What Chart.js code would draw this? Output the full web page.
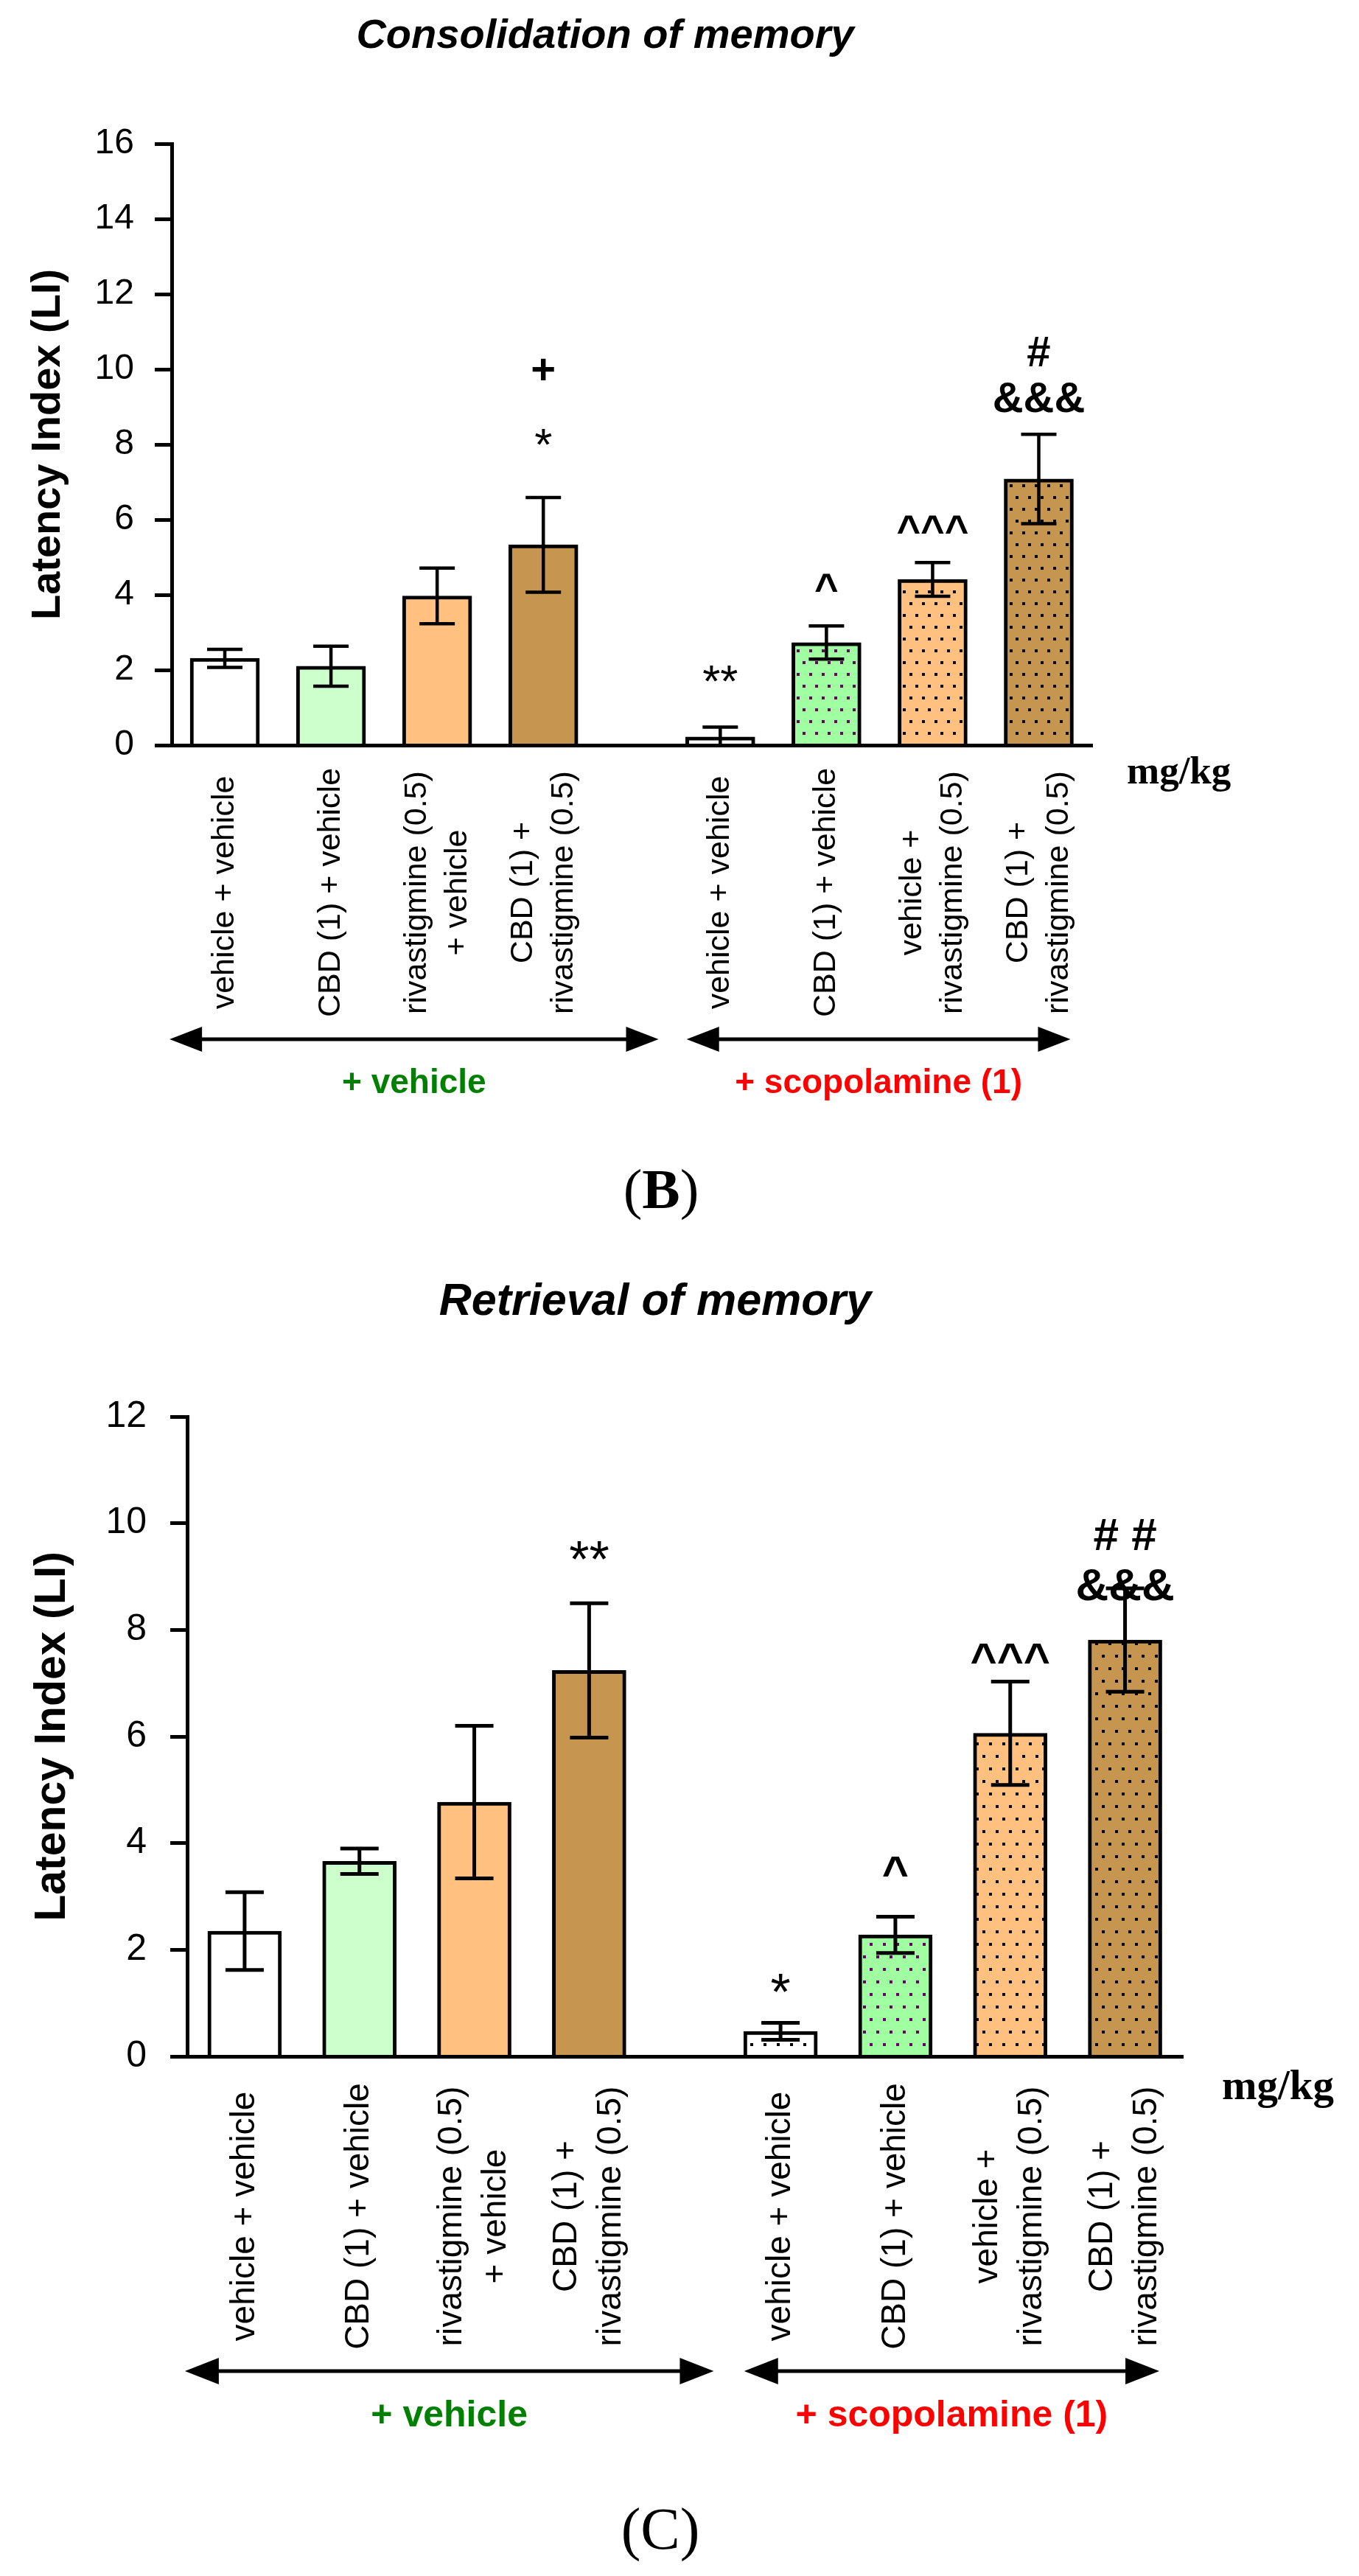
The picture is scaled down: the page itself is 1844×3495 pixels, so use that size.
<!DOCTYPE html>
<html><head><meta charset="utf-8">
<script src="https://cdn.jsdelivr.net/npm/chart.js@4.4.1/dist/chart.umd.min.js"></script>
<style>
html,body{margin:0;padding:0;background:#fff;}
body{width:1844px;height:3495px;position:relative;overflow:hidden;}
canvas{position:absolute;left:0;}
#cB{top:0;}
#cC{top:1700px;}
</style></head><body>
<canvas id="cB" width="1844" height="1700"></canvas>
<canvas id="cC" width="1844" height="1795"></canvas>
<script>
// ---------------- data ----------------
const categories = [
  "vehicle + vehicle",
  "CBD (1) + vehicle",
  ["rivastigmine (0.5)", "+ vehicle"],
  ["CBD (1) +", "rivastigmine (0.5)"],
  "vehicle + vehicle",
  "CBD (1) + vehicle",
  ["vehicle +", "rivastigmine (0.5)"],
  ["CBD (1) +", "rivastigmine (0.5)"]
];
const consolidationMean = [2.31, 2.10, 3.97, 5.33, 0.22, 2.73, 4.41, 7.08];
const consolidationSEM  = [0.24, 0.53, 0.74, 1.26, 0.26, 0.44, 0.45, 1.19];
const retrievalMean = [2.35, 3.66, 4.77, 7.24, 0.47, 2.28, 6.06, 7.81];
const retrievalSEM  = [0.73, 0.24, 1.43, 1.26, 0.16, 0.34, 0.97, 0.97];
const consolidationYTicks = [0, 2, 4, 6, 8, 10, 12, 14, 16];
const retrievalYTicks = [0, 2, 4, 6, 8, 10, 12];
const consolidationMarks = [
  [], [], [],
  [{t: "+", v: 10.0, f: "plus"}, {t: "*", v: 8.2, f: "star"}],
  [{t: "**", v: 1.9, f: "star"}],
  [{t: "^", v: 4.33, f: "caret"}],
  [{t: "^^^", v: 5.87, f: "caret"}],
  [{t: "#", v: 10.48, f: "hash"}, {t: "&&&", v: 9.24, f: "hash"}]
];
const retrievalMarks = [
  [], [], [],
  [{t: "**", v: 9.49, f: "star"}],
  [{t: "*", v: 1.38, f: "star"}],
  [{t: "^", v: 3.56, f: "caret"}],
  [{t: "^^^", v: 7.55, f: "caret"}],
  [{t: "# #", v: 9.79, f: "hash"}, {t: "&&&", v: 8.84, f: "hash"}]
];
const groupLabels = ["+ vehicle", "+ scopolamine (1)"];
const groupColors = ["#008000", "#FF0000"];
const barFills  = ["#FFFFFF", "#CCFFCC", "#FFC080", "#C69550", "#FFFFFF", "#A0FFA0", "#FFC080", "#C69550"];
const dotColors = [null, null, null, null, "#000000", "#660066", "#000000", "#000000"];

// ---------------- layout constants ----------------
const SANS = '"Liberation Sans", Arial, Helvetica, sans-serif';
const SERIF = '"Liberation Serif", "Times New Roman", serif';
const GAP_EXTRA = 2 / 3;
const xPositions = categories.map((_, i) => i + (i >= 4 ? GAP_EXTRA : 0));
const X_MIN = -0.5, X_MAX = 8.17;
const groupSpans = [[-0.52, 4.085], [4.35, 7.965]];

const layoutB = {
  canvas: "cB", title: "Consolidation of memory",
  means: consolidationMean, sems: consolidationSEM, marks: consolidationMarks, yTicks: consolidationYTicks,
  padTop: 195, padRight: 362, padBottom: 689, yAxisWidth: 233,
  barThickness: 94, borderW: 5, axisW: 5, errW: 4.5, capHalf: 24,
  tickFont: 48, tickPad: 28, tickLen: 23,
  yTitleFont: 56, yTitlePad: 32,
  catFont: 43, catLine: 55, catOffset: 200,
  arrowY: 399, arrowHead: 44, arrowHalf: 17, arrowW: 5,
  groupFont: 46, groupBaseline: 472,
  unitFont: 53, unitDx: 47, unitBaseline: 52,
  titleFont: 56, titleX: 821, titleBaseline: 65,
  panel: "B", panelBold: true, panelFont: 77, panelX: 897, panelBaseline: 1639,
  tile: [17, 16, 4],
  markFonts: {plus: "bold 58px " + SANS, star: "62px " + SANS, caret: "bold 56px " + SANS, hash: "bold 58px " + SANS}
};
const layoutC = {
  canvas: "cC", title: "Retrieval of memory",
  means: retrievalMean, sems: retrievalSEM, marks: retrievalMarks, yTicks: retrievalYTicks,
  padTop: 222, padRight: 239, padBottom: 705, yAxisWidth: 254,
  barThickness: 100, borderW: 5, axisW: 5, errW: 5, capHalf: 26,
  tickFont: 50, tickPad: 32, tickLen: 23,
  yTitleFont: 59, yTitlePad: 36,
  catFont: 46, catLine: 60, catOffset: 217,
  arrowY: 427, arrowHead: 46, arrowHalf: 18, arrowW: 5,
  groupFont: 50, groupBaseline: 502,
  unitFont: 57, unitDx: 53, unitBaseline: 58,
  titleFont: 61, titleX: 889, titleBaseline: 84,
  panel: "C", panelBold: false, panelFont: 80, panelX: 896, panelBaseline: 1758,
  tile: [18, 17, 4],
  markFonts: {plus: "bold 62px " + SANS, star: "70px " + SANS, caret: "bold 62px " + SANS, hash: "bold 62px " + SANS}
};

// ---------------- helpers ----------------
function makePattern(bg, dot, tile) {
  const [tw, rh, ds] = tile;
  const c = document.createElement("canvas");
  c.width = tw; c.height = rh * 2;
  const g = c.getContext("2d");
  g.fillStyle = bg; g.fillRect(0, 0, c.width, c.height);
  g.fillStyle = dot;
  g.fillRect(1, 1, ds, ds);
  g.fillRect(1 + Math.round(tw / 2), 1 + rh, ds, ds);
  return g.createPattern(c, "repeat");
}

function textCentered(ctx, text, x, y, font) {
  ctx.font = font; ctx.textAlign = "center"; ctx.textBaseline = "alphabetic";
  const m = ctx.measureText(text);
  ctx.fillText(text, x, y + (m.actualBoundingBoxAscent - m.actualBoundingBoxDescent) / 2);
}

function decorPlugin(L) {
  return {
    id: "decor" + L.canvas,
    afterDatasetsDraw(chart) {
      const ctx = chart.ctx, xs = chart.scales.x, ys = chart.scales.y;
      ctx.save();
      ctx.strokeStyle = "#000"; ctx.lineWidth = L.errW; ctx.lineCap = "butt";
      L.means.forEach((m, i) => {
        const x = xs.getPixelForValue(xPositions[i]);
        const lo = m - L.sems[i];
        const yt = ys.getPixelForValue(m + L.sems[i]);
        const yb = ys.getPixelForValue(Math.max(0, lo));
        ctx.beginPath();
        ctx.moveTo(x, yb); ctx.lineTo(x, yt);
        ctx.moveTo(x - L.capHalf, yt); ctx.lineTo(x + L.capHalf, yt);
        if (lo > 0) { ctx.moveTo(x - L.capHalf, yb); ctx.lineTo(x + L.capHalf, yb); }
        ctx.stroke();
      });
      ctx.restore();
    },
    afterDraw(chart) {
      const ctx = chart.ctx, xs = chart.scales.x, ys = chart.scales.y, ca = chart.chartArea;
      ctx.save();
      ctx.fillStyle = "#000";
      // title
      ctx.font = "italic bold " + L.titleFont + "px " + SANS;
      ctx.textAlign = "center"; ctx.textBaseline = "alphabetic";
      ctx.fillText(L.title, L.titleX, L.titleBaseline);
      // significance marks
      L.marks.forEach((list, i) => {
        const x = xs.getPixelForValue(xPositions[i]);
        list.forEach(mk => textCentered(ctx, mk.t, x, ys.getPixelForValue(mk.v), L.markFonts[mk.f]));
      });
      // category labels (rotated)
      ctx.font = L.catFont + "px " + SANS;
      ctx.textAlign = "center"; ctx.textBaseline = "middle";
      categories.forEach((lab, i) => {
        const lines = Array.isArray(lab) ? lab : [lab];
        const x = xs.getPixelForValue(xPositions[i]);
        ctx.save();
        ctx.translate(x, ca.bottom + L.catOffset);
        ctx.rotate(-Math.PI / 2);
        lines.forEach((ln, j) => ctx.fillText(ln, 0, (j - (lines.length - 1) / 2) * L.catLine));
        ctx.restore();
      });
      // group arrows + labels
      const ay = ca.bottom + L.arrowY;
      groupSpans.forEach(([a, b], g) => {
        const xa = xs.getPixelForValue(a), xb = xs.getPixelForValue(b);
        ctx.strokeStyle = "#000"; ctx.lineWidth = L.arrowW; ctx.fillStyle = "#000";
        ctx.beginPath(); ctx.moveTo(xa + L.arrowHead - 2, ay); ctx.lineTo(xb - L.arrowHead + 2, ay); ctx.stroke();
        ctx.beginPath(); ctx.moveTo(xa, ay); ctx.lineTo(xa + L.arrowHead, ay - L.arrowHalf); ctx.lineTo(xa + L.arrowHead, ay + L.arrowHalf); ctx.closePath(); ctx.fill();
        ctx.beginPath(); ctx.moveTo(xb, ay); ctx.lineTo(xb - L.arrowHead, ay - L.arrowHalf); ctx.lineTo(xb - L.arrowHead, ay + L.arrowHalf); ctx.closePath(); ctx.fill();
        ctx.fillStyle = groupColors[g];
        ctx.font = "bold " + L.groupFont + "px " + SANS;
        ctx.textAlign = "center"; ctx.textBaseline = "alphabetic";
        ctx.fillText(groupLabels[g], (xa + xb) / 2, ca.bottom + L.groupBaseline);
      });
      // unit
      ctx.fillStyle = "#000";
      ctx.font = "bold " + L.unitFont + "px " + SERIF;
      ctx.textAlign = "left"; ctx.textBaseline = "alphabetic";
      ctx.fillText("mg/kg", ca.right + L.unitDx, ca.bottom + L.unitBaseline);
      // panel letter
      const parts = [["(", false], [L.panel, L.panelBold], [")", false]];
      let total = 0;
      const widths = parts.map(([s, b]) => { ctx.font = (b ? "bold " : "") + L.panelFont + "px " + SERIF; const w = ctx.measureText(s).width; total += w; return w; });
      let px = L.panelX - total / 2;
      parts.forEach(([s, b], k) => {
        ctx.font = (b ? "bold " : "") + L.panelFont + "px " + SERIF;
        ctx.fillText(s, px, L.panelBaseline);
        px += widths[k];
      });
      ctx.restore();
    }
  };
}

function buildChart(L) {
  const ctx = document.getElementById(L.canvas).getContext("2d");
  const fills = barFills.map((c, i) => dotColors[i] ? makePattern(c, dotColors[i], L.tile) : c);
  return new Chart(ctx, {
    type: "bar",
    data: {
      datasets: [{
        data: xPositions.map((x, i) => ({x: x, y: L.means[i]})),
        backgroundColor: fills,
        borderColor: "#000",
        borderWidth: L.borderW,
        borderSkipped: "start",
        barThickness: L.barThickness
      }]
    },
    options: {
      responsive: false, animation: false, devicePixelRatio: 1,
      layout: {padding: {left: 0, top: L.padTop, right: L.padRight, bottom: L.padBottom}},
      plugins: {legend: {display: false}, tooltip: {enabled: false}, title: {display: false}},
      scales: {
        x: {
          type: "linear", min: X_MIN, max: X_MAX, offset: false,
          grid: {display: false, drawTicks: false},
          ticks: {display: false},
          border: {display: true, color: "#000", width: L.axisW, z: 1},
          afterFit(s) { s.height = 0; }
        },
        y: {
          type: "linear", min: 0, max: L.yTicks[L.yTicks.length - 1],
          afterBuildTicks(s) { s.ticks = L.yTicks.map(v => ({value: v})); },
          grid: {display: true, drawOnChartArea: false, drawTicks: true, tickLength: L.tickLen, tickWidth: L.axisW, tickColor: "#000"},
          border: {display: true, color: "#000", width: L.axisW},
          ticks: {color: "#000", padding: L.tickPad, font: {family: SANS, size: L.tickFont}, callback: v => String(v)},
          title: {display: true, text: "Latency Index (LI)", color: "#000",
                  font: {family: SANS, size: L.yTitleFont, weight: "bold"}, padding: {top: L.yTitlePad, bottom: 0}},
          afterFit(s) { s.width = L.yAxisWidth; }
        }
      }
    },
    plugins: [decorPlugin(L)]
  });
}

buildChart(layoutB);
buildChart(layoutC);
</script>
</body></html>
